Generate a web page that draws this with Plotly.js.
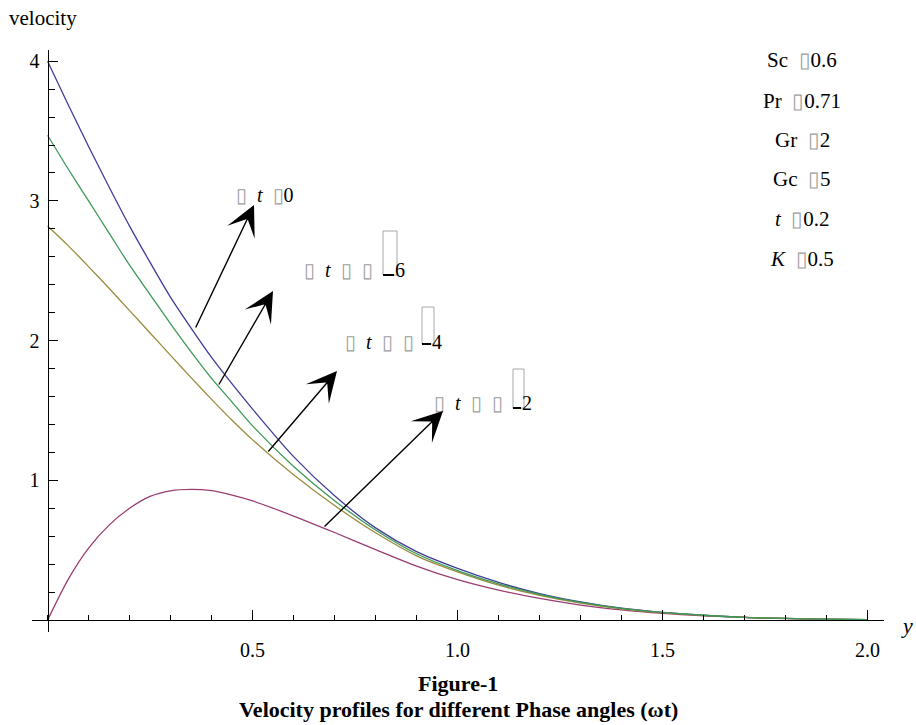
<!DOCTYPE html>
<html>
<head>
<meta charset="utf-8">
<script src="https://cdn.plot.ly/plotly-3.0.1.min.js"></script>
<style>html,body{margin:0;padding:0;background:#fff;}#chart{width:916px;height:725px;}</style>
</head>
<body>
<div id="chart"></div>
<script>
// ---- data ----
const yGrid = [0,0.05,0.1,0.15,0.2,0.25,0.3,0.35,0.4,0.45,0.5,0.6,0.7,0.8,0.9,1.0,1.1,1.2,1.3,1.4,1.5,1.6,1.7,1.8,1.9,2.0];
const velPhase0   = [4.00,3.69,3.39,3.10,2.82,2.56,2.31,2.09,1.88,1.69,1.51,1.17,0.89,0.66,0.49,0.37,0.27,0.19,0.13,0.085,0.055,0.035,0.02,0.012,0.007,0.004];
const velPhasePi2 = [0,0.29,0.515,0.68,0.80,0.885,0.925,0.935,0.926,0.894,0.853,0.745,0.627,0.505,0.387,0.29,0.215,0.155,0.108,0.073,0.048,0.031,0.019,0.011,0.006,0.003];
const velPhasePi4 = [2.82,2.68,2.53,2.375,2.215,2.055,1.895,1.735,1.58,1.43,1.29,1.04,0.82,0.625,0.46,0.345,0.25,0.178,0.122,0.081,0.053,0.034,0.02,0.012,0.007,0.004];
const velPhasePi6 = [3.47,3.23,3.00,2.77,2.54,2.33,2.12,1.92,1.73,1.56,1.39,1.10,0.855,0.645,0.475,0.355,0.26,0.185,0.127,0.084,0.055,0.035,0.02,0.012,0.007,0.004];

const xTickVals = [0.5,1.0,1.5,2.0];
const xTickText = ['0.5','1.0','1.5','2.0'];
const yTickVals = [1,2,3,4];
const yTickText = ['1','2','3','4'];

const paramLabels = ['Sc', 'Pr', 'Gr', 'Gc', '<i>t</i>', '<i>K</i>'];
const paramValues = ['0.6', '0.71', '2', '5', '0.2', '0.5'];

// ---- layout helpers ----
const W = 916, H = 725;
const mL = 32, mR = 32, mT = 50, mB = 93;
const xRange = [-0.038, 2.04];
const yRange = [-0.085, 4.08];
const pw = W - mL - mR, ph = H - mT - mB;
const px2x = p => xRange[0] + (p - mL) / pw * (xRange[1] - xRange[0]);
const py2y = p => yRange[1] - (p - mT) / ph * (yRange[1] - yRange[0]);
const px2paper = p => (p - mL) / pw;
const py2paper = p => (H - mB - p) / ph;

const serif = 'Liberation Serif, Times New Roman, serif';
const BOX = '<span style="color:#a0a0a0">\u25AF</span>';

const colors = {p0: '#3F3D99', pi2: '#993D71', pi4: '#998C3D', pi6: '#3D9956'};
const lw = 1.3;

const traces = [
  {x: yGrid, y: velPhase0, mode: 'lines', line: {color: colors.p0, width: lw, shape: 'spline', smoothing: 0.8}, showlegend: false},
  {x: yGrid, y: velPhasePi2, mode: 'lines', line: {color: colors.pi2, width: lw, shape: 'spline', smoothing: 0.8}, showlegend: false},
  {x: yGrid, y: velPhasePi4, mode: 'lines', line: {color: colors.pi4, width: lw, shape: 'spline', smoothing: 0.8}, showlegend: false},
  {x: yGrid, y: velPhasePi6, mode: 'lines', line: {color: colors.pi6, width: lw, shape: 'spline', smoothing: 0.8}, showlegend: false}
];

const annotations = [];
const shapes = [];

// axis labels
annotations.push({xref: 'paper', yref: 'paper', x: px2paper(7), y: py2paper(18), xanchor: 'left', yanchor: 'middle',
  text: 'velocity', showarrow: false, font: {family: serif, size: 21, color: '#000'}});
annotations.push({xref: 'paper', yref: 'paper', x: px2paper(907), y: py2paper(625), xanchor: 'center', yanchor: 'middle',
  text: '<i>y</i>', showarrow: false, font: {family: serif, size: 22, color: '#000'}});

// parameter list
const paramY = [60, 101, 140, 179, 219, 259];
paramLabels.forEach((lab, i) => {
  annotations.push({xref: 'paper', yref: 'paper', x: px2paper(802), y: py2paper(paramY[i]), xanchor: 'center', yanchor: 'middle',
    text: lab + '  ' + BOX + paramValues[i], showarrow: false, font: {family: serif, size: 21, color: '#000'}});
});

// curve labels
const curveLabels = [
  {left: 234, cy: 195, text: BOX + '  <i>t</i>  ' + BOX + '0', frac: null},
  {left: 302, cy: 270, text: BOX + '  <i>t</i>  ' + BOX + '  ' + BOX, frac: {digit: '6', bx0: 383, bx1: 397, top: 231, bot: 275}},
  {left: 343, cy: 342, text: BOX + '  <i>t</i>  ' + BOX + '  ' + BOX, frac: {digit: '4', bx0: 422, bx1: 434, top: 307, bot: 344}},
  {left: 432, cy: 403, text: BOX + '  <i>t</i>  ' + BOX + '  ' + BOX, frac: {digit: '2', bx0: 513, bx1: 524, top: 369, bot: 408}}
];
curveLabels.forEach(c => {
  annotations.push({xref: 'x', yref: 'y', x: px2x(c.left), y: py2y(c.cy), xanchor: 'left', yanchor: 'middle',
    text: c.text, showarrow: false, font: {family: serif, size: 20, color: '#000'}});
  if (c.frac) {
    const f = c.frac;
    shapes.push({type: 'rect', xref: 'x', yref: 'y', x0: px2x(f.bx0), x1: px2x(f.bx1), y0: py2y(f.top), y1: py2y(f.bot),
      line: {color: '#a8a8a8', width: 1}, fillcolor: 'rgba(0,0,0,0)'});
    shapes.push({type: 'line', xref: 'x', yref: 'y', x0: px2x(f.bx0), x1: px2x(f.bx1 - 3), y0: py2y(f.bot), y1: py2y(f.bot),
      line: {color: '#000', width: 2}});
    annotations.push({xref: 'x', yref: 'y', x: px2x(f.bx1 - 4), y: py2y(c.cy), xanchor: 'left', yanchor: 'middle',
      text: f.digit, showarrow: false, font: {family: serif, size: 20, color: '#000'}});
  }
});

// arrows (tail on curve -> head near label)
const arrows = [
  {tail: [195, 329], tip: [254, 205]},
  {tail: [218, 386], tip: [273, 291]},
  {tail: [267, 453], tip: [337, 371]},
  {tail: [323, 528], tip: [443, 411]}
];
arrows.forEach(a => {
  annotations.push({xref: 'x', yref: 'y', axref: 'x', ayref: 'y',
    x: px2x(a.tip[0]), y: py2y(a.tip[1]), ax: px2x(a.tail[0]), ay: py2y(a.tail[1]),
    text: '', showarrow: true, arrowhead: 3, arrowsize: 3.6, arrowwidth: 1.4, arrowcolor: '#000'});
});

// figure captions
annotations.push({xref: 'paper', yref: 'paper', x: px2paper(458), y: py2paper(683), xanchor: 'center', yanchor: 'middle',
  text: '<b>Figure-1</b>', showarrow: false, font: {family: serif, size: 22, color: '#000'}});
annotations.push({xref: 'paper', yref: 'paper', x: px2paper(458), y: py2paper(709), xanchor: 'center', yanchor: 'middle',
  text: '<b>Velocity profiles for different Phase angles (\u03C9t)</b>', showarrow: false, font: {family: serif, size: 22, color: '#000'}});

const layout = {
  width: W, height: H,
  margin: {l: mL, r: mR, t: mT, b: mB, pad: 0},
  paper_bgcolor: '#fff', plot_bgcolor: '#fff',
  showlegend: false,
  font: {family: serif, size: 20, color: '#000'},
  xaxis: {
    range: xRange, anchor: 'free', position: (0 - yRange[0]) / (yRange[1] - yRange[0]),
    showgrid: false, zeroline: false, showline: true, linecolor: '#000', linewidth: 1,
    tickmode: 'array', tickvals: xTickVals, ticktext: xTickText,
    ticks: 'inside', ticklen: 10, tickwidth: 1, tickcolor: '#000', ticklabelstandoff: 12,
    tickfont: {family: serif, size: 20, color: '#000'},
    minor: {tickmode: 'linear', tick0: 0, dtick: 0.1, ticks: 'inside', ticklen: 5, tickwidth: 1, tickcolor: '#000'}
  },
  yaxis: {
    range: yRange, anchor: 'free', position: (0 - xRange[0]) / (xRange[1] - xRange[0]),
    showgrid: false, zeroline: false, showline: true, linecolor: '#000', linewidth: 1,
    tickmode: 'array', tickvals: yTickVals, ticktext: yTickText,
    ticks: 'inside', ticklen: 9, tickwidth: 1, tickcolor: '#000', ticklabelstandoff: 4,
    tickfont: {family: serif, size: 20, color: '#000'},
    minor: {tickmode: 'linear', tick0: 0, dtick: 0.2, ticks: 'inside', ticklen: 6, tickwidth: 1, tickcolor: '#000'}
  },
  annotations: annotations,
  shapes: shapes
};

Plotly.newPlot('chart', traces, layout, {displayModeBar: false, staticPlot: true});
</script>
</body>
</html>
